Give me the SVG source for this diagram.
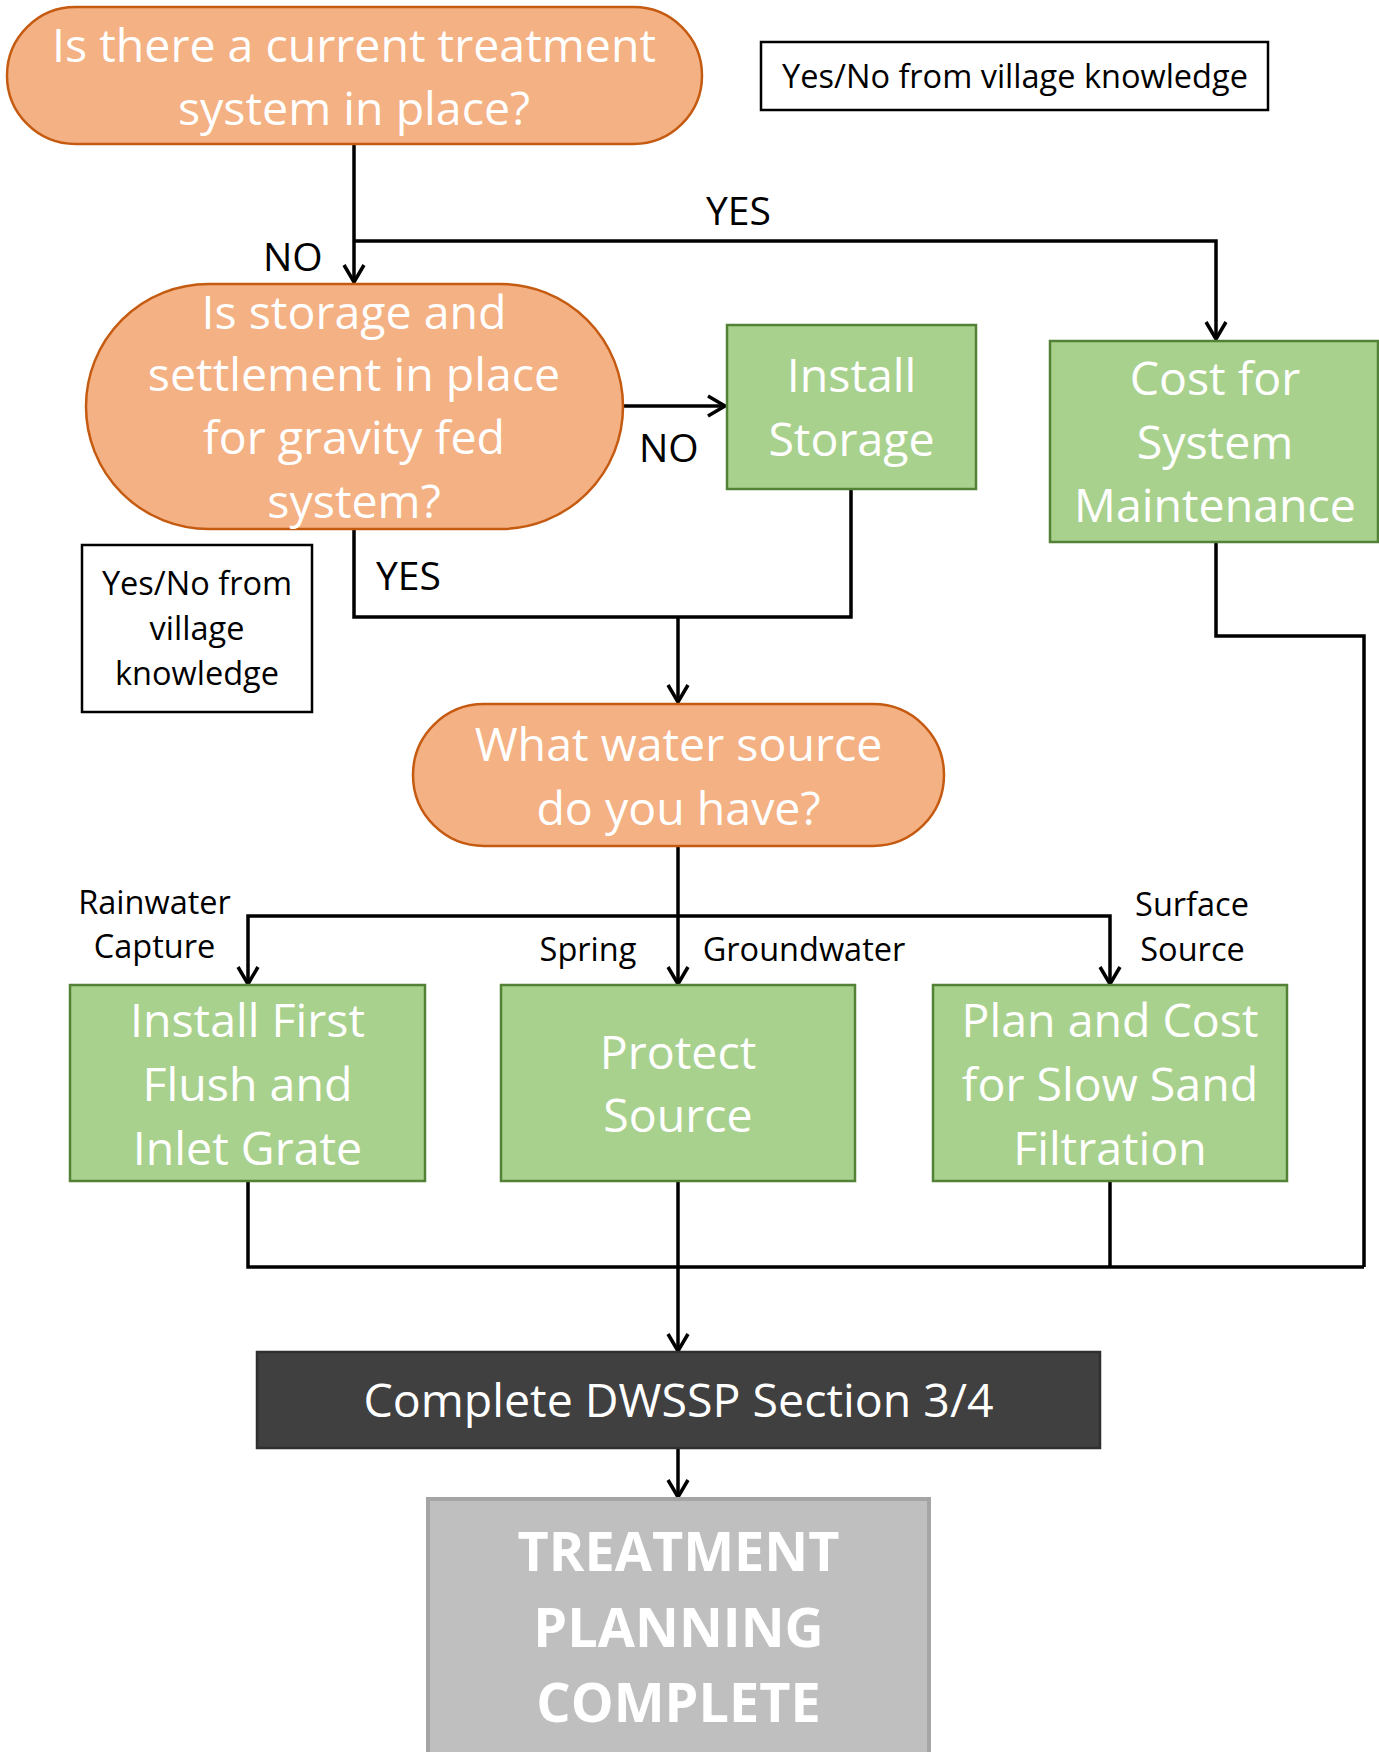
<svg xmlns="http://www.w3.org/2000/svg" width="1379" height="1752" viewBox="0 0 1379 1752">
<style>
.dec{fill:#F4B183;stroke:#C55A11;stroke-width:2.5}
.act{fill:#A9D18E;stroke:#538135;stroke-width:2.5}
.note{fill:#FFFFFF;stroke:#000000;stroke-width:2.5}
.wt{font-family:"Open Sans","Noto Sans",sans-serif;font-size:46.5px;fill:#FFFFFF;text-anchor:middle}
.bt{font-family:"Open Sans","Noto Sans",sans-serif;font-size:32.5px;fill:#000000;text-anchor:middle}
.lb{font-family:"Open Sans","Noto Sans",sans-serif;font-size:39px;fill:#000000}
.fin{font-family:"Open Sans","Noto Sans",sans-serif;font-size:54px;font-weight:bold;fill:#FFFFFF;text-anchor:middle}
.cn{fill:none;stroke:#000000;stroke-width:3.5}
</style>
<defs>
<marker id="arr" markerUnits="userSpaceOnUse" markerWidth="24" markerHeight="24" refX="20" refY="12" orient="auto" overflow="visible">
<path d="M3,2 L20,12 L3,22" fill="none" stroke="#000000" stroke-width="3.5"/>
</marker>
</defs>

<g id="connectors">
<path class="cn" d="M354,144 V282" marker-end="url(#arr)"/>
<path class="cn" d="M354,241 H1216 V339" marker-end="url(#arr)"/>
<path class="cn" d="M623,406 H725" marker-end="url(#arr)"/>
<path class="cn" d="M354,529 V617 H851 V489"/>
<path class="cn" d="M678,617 V702" marker-end="url(#arr)"/>
<path class="cn" d="M678,846 V984" marker-end="url(#arr)"/>
<path class="cn" d="M678,916 H248 V984" marker-end="url(#arr)"/>
<path class="cn" d="M678,916 H1110 V984" marker-end="url(#arr)"/>
<path class="cn" d="M248,1181 V1267 H1364"/>
<path class="cn" d="M1110,1181 V1267"/>
<path class="cn" d="M1216,542 V636 H1364 V1267"/>
<path class="cn" d="M678,1181 V1351" marker-end="url(#arr)"/>
<path class="cn" d="M678,1448 V1497" marker-end="url(#arr)"/>
<text class="lb" x="706" y="225">YES</text>
<text class="lb" x="263" y="271">NO</text>
<text class="lb" x="639" y="462">NO</text>
<text class="lb" x="376" y="590">YES</text>
<text class="bt" x="154.5" y="914">Rainwater</text>
<text class="bt" x="154.5" y="958">Capture</text>
<text class="bt" x="588" y="961">Spring</text>
<text class="bt" x="804" y="961">Groundwater</text>
<text class="bt" x="1192" y="916">Surface</text>
<text class="bt" x="1192.5" y="961">Source</text>
</g>

<g id="q-treatment">
<rect class="dec" x="7" y="7" width="695" height="137" rx="68.5"/>
<text class="wt" x="354" y="62">Is there a current treatment</text>
<text class="wt" x="354" y="125">system in place?</text>
</g>

<g id="note-top">
<rect class="note" x="761" y="42" width="507" height="68"/>
<text class="bt" x="1015" y="88">Yes/No from village knowledge</text>
</g>

<g id="q-storage">
<rect class="dec" x="86" y="284" width="537" height="245" rx="122.5"/>
<text class="wt" x="354" y="329">Is storage and</text>
<text class="wt" x="354" y="391">settlement in place</text>
<text class="wt" x="354" y="454">for gravity fed</text>
<text class="wt" x="354" y="518">system?</text>
</g>

<g id="install-storage">
<rect class="act" x="727" y="325" width="249" height="164"/>
<text class="wt" x="851.5" y="392">Install</text>
<text class="wt" x="851.5" y="456">Storage</text>
</g>

<g id="cost-maintenance">
<rect class="act" x="1050" y="341" width="328" height="201"/>
<text class="wt" x="1215" y="395">Cost for</text>
<text class="wt" x="1215" y="459">System</text>
<text class="wt" x="1215" y="522">Maintenance</text>
</g>

<g id="note-left">
<rect class="note" x="82" y="545" width="230" height="167"/>
<text class="bt" x="197" y="595">Yes/No from</text>
<text class="bt" x="197" y="640">village</text>
<text class="bt" x="197" y="685">knowledge</text>
</g>

<g id="q-source">
<rect class="dec" x="413" y="704" width="531" height="142" rx="71"/>
<text class="wt" x="678.5" y="761">What water source</text>
<text class="wt" x="678.5" y="825">do you have?</text>
</g>

<g id="first-flush">
<rect class="act" x="70" y="985" width="355" height="196"/>
<text class="wt" x="247.5" y="1037">Install First</text>
<text class="wt" x="247.5" y="1101">Flush and</text>
<text class="wt" x="247.5" y="1165">Inlet Grate</text>
</g>

<g id="protect-source">
<rect class="act" x="501" y="985" width="354" height="196"/>
<text class="wt" x="678" y="1069">Protect</text>
<text class="wt" x="678" y="1132">Source</text>
</g>

<g id="slow-sand">
<rect class="act" x="933" y="985" width="354" height="196"/>
<text class="wt" x="1110" y="1037">Plan and Cost</text>
<text class="wt" x="1110" y="1101">for Slow Sand</text>
<text class="wt" x="1110" y="1165">Filtration</text>
</g>

<g id="dwssp">
<rect x="257" y="1352" width="843" height="96" fill="#404040" stroke="#2F2F2F" stroke-width="2.5"/>
<text class="wt" x="678.5" y="1417">Complete DWSSP Section 3/4</text>
</g>

<g id="complete">
<rect x="428" y="1499" width="501" height="262" fill="#BFBFBF" stroke="#A5A5A5" stroke-width="4"/>
<text class="fin" x="678.5" y="1571">TREATMENT</text>
<text class="fin" x="678.5" y="1647">PLANNING</text>
<text class="fin" x="678.5" y="1722">COMPLETE</text>
</g>
</svg>
